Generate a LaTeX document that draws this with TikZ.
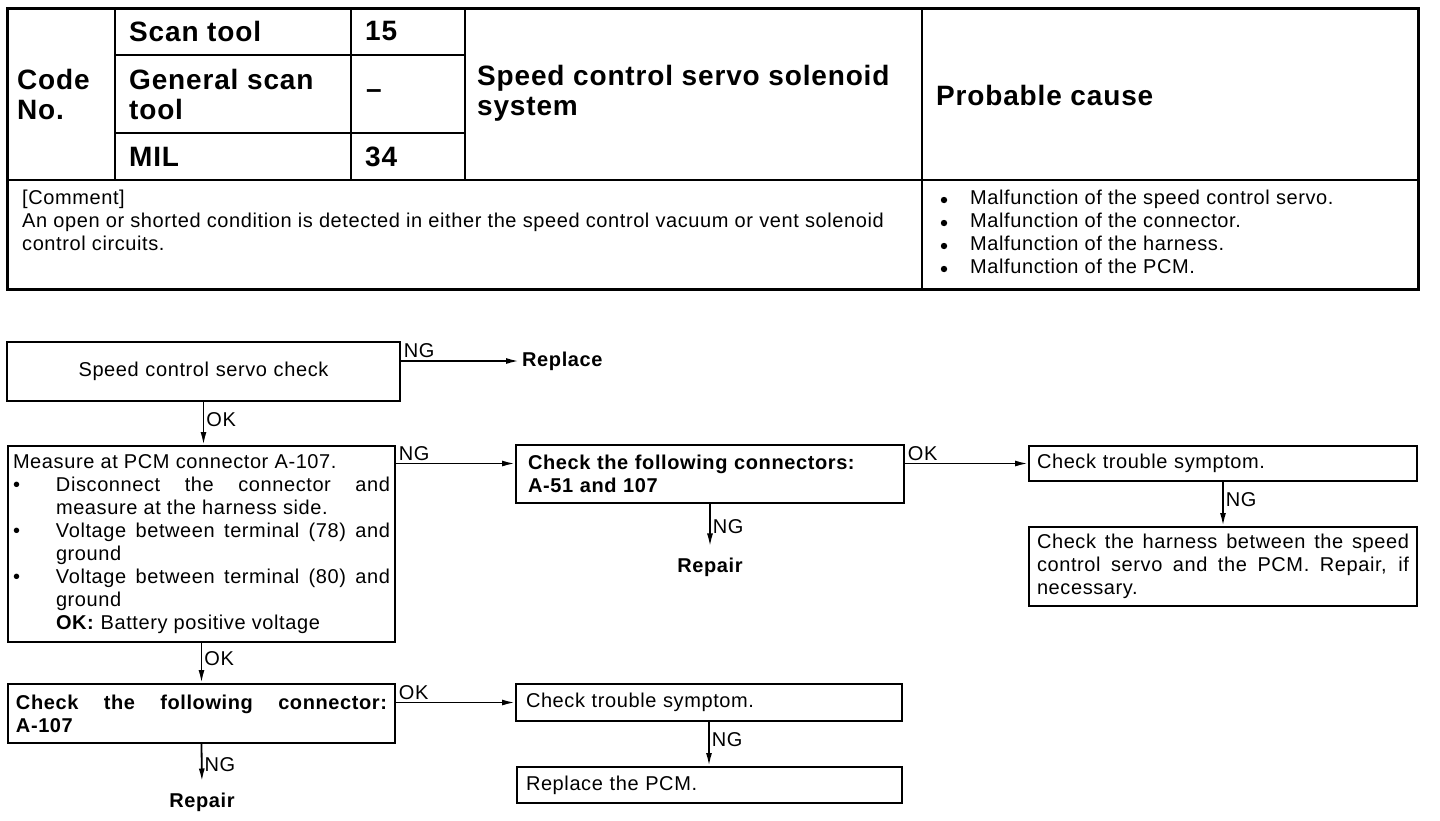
\documentclass[tikz,border=0pt]{standalone}
\usepackage{fontspec}
\setmainfont{Liberation Sans}[LetterSpace=3]
\usetikzlibrary{arrows.meta, positioning}

\newcommand{\bodyfont}{\fontsize{20}{23}\selectfont}
\newcommand{\headfont}{\fontsize{28}{30}\selectfont\bfseries}
\newcommand{\bitem}{\par\noindent\hangindent=43pt\hangafter=1\makebox[43pt][l]{\textbullet}}

\begin{document}
\begin{tikzpicture}[x=1pt, y=-1pt,
        tline/.style={line width=2pt},
        head/.style={font=\headfont, inner sep=0pt, align=left},
        body/.style={font=\bodyfont, inner sep=0pt, align=left},
        fbox/.style={draw, line width=2pt, anchor=north west, font=\bodyfont, inner xsep=8pt, inner ysep=2pt},
        arr/.style={-{Latex[length=13pt, width=6pt]}, line width=1.8pt},
        lbl/.style={font=\bodyfont, inner sep=2pt},
        res/.style={font=\bodyfont\bfseries, inner sep=3pt}
    ]
        \useasboundingbox (0,0) rectangle (1440,820);

        % Code table (top)
        \draw[line width=3pt] (7,8) rectangle (1418,289);
        \draw[tline] (7,180) -- (1418,180);
        \foreach \x in {115, 351, 465} {
            \draw[tline] (\x,8) -- (\x,180);
        }
        \draw[tline] (922,8) -- (922,289);
        \foreach \y in {55, 133} {
            \draw[tline] (115,\y) -- (465,\y);
        }

        \node[head, anchor=west] (code) at (17,94) {Code\\No.};
        \node[head, anchor=west] (scan) at (129,31) {Scan tool};
        \node[head, anchor=west] (scanv) at (365,31) {15};
        \node[head, anchor=west] (gen) at (129,94) {General scan\\tool};
        \node[head] (genv) at (374,94) {--};
        \node[head, anchor=west] (mil) at (129,157) {MIL};
        \node[head, anchor=west] (milv) at (365,157) {34};
        \node[head, anchor=west] (sys) at (477,93) {Speed control servo solenoid\\system};
        \node[head, anchor=west] (cause) at (936,95) {Probable cause};

        \node[body, anchor=north west] (cmt) at (22,190)
            {[Comment]\\An open or shorted condition is detected in either the speed control vacuum or vent solenoid\\control circuits.};
        \node[body, anchor=north west] (causes) at (970,190)
            {Malfunction of the speed control servo.\\
             Malfunction of the connector.\\
             Malfunction of the harness.\\
             Malfunction of the PCM.};
        % bullets of the cause list
        \foreach \y in {200, 223, 246, 269} {
            \fill (944,\y) circle (3.2pt);
        }

        % Flow chart, left column
        \node[fbox, text width=377pt, minimum height=59pt, align=center] (servo) at (6,341) {Speed control servo check};
        \node[fbox, text width=377pt, minimum height=196pt, align=justify, inner xsep=5pt] (meas) at (7,445)
            {\noindent Measure at PCM connector A-107.
             \bitem Disconnect the connector and\linebreak measure at the harness side.
             \bitem Voltage between terminal (78) and\linebreak ground
             \bitem Voltage between terminal (80) and\linebreak ground\newline\textbf{OK:} Battery positive voltage\par};
        \node[fbox, text width=371pt, minimum height=59pt, align=justify, font=\bodyfont\bfseries] (conn) at (7,683)
            {\noindent Check the following connector:\linebreak A-107\par};
        \node[res] (rep) at (202,802) {Repair};

        % Middle column
        \node[res, anchor=west] (repl) at (519,361) {Replace};
        \node[fbox, text width=364pt, minimum height=58pt, align=left, inner xsep=12pt, font=\bodyfont\bfseries] (conns) at (515,444)
            {Check the following connectors:\\A-51 and 107};
        \node[res] (repb) at (710,567) {Repair};
        \node[fbox, text width=366pt, minimum height=37pt, align=left, inner xsep=10pt] (sym) at (515,683) {Check trouble symptom.};
        \node[fbox, text width=367pt, minimum height=36pt, align=left, inner xsep=9pt] (pcm) at (516,766) {Replace the PCM.};

        % Right column
        \node[fbox, text width=372pt, minimum height=35pt, align=left] (symb) at (1028,445) {Check trouble symptom.};
        \node[fbox, text width=372pt, minimum height=79pt, align=justify] (harn) at (1028,526)
            {\noindent Check the harness between the speed\linebreak control servo and the PCM. Repair, if\linebreak necessary.\par};

        % Connectors
        \draw[arr] (servo.east |- repl.west) -- (repl.west) node[lbl, pos=0, above right] {NG};
        \draw[arr] (servo.south) -- (servo.south |- meas.north) node[lbl, pos=0.4, right] {OK};
        \draw[arr] (meas.east |- symb.west) -- (conns.west |- symb.west) node[lbl, pos=0, above right] {NG};
        \draw[arr] (conns.east |- symb.west) -- (symb.west) node[lbl, pos=0, above right] {OK};
        \draw[arr, shorten >=8pt] (conns.south) -- (repb.north) node[lbl, pos=0.45, right] {NG};
        \draw[arr] (symb.south) -- (symb.south |- harn.north) node[lbl, pos=0.4, right] {NG};
        \draw[arr] (meas.south) -- (meas.south |- conn.north) node[lbl, pos=0.4, right] {OK};
        \draw[arr] (conn.east |- sym.west) -- (sym.west) node[lbl, pos=0, above right] {OK};
        \draw[arr, shorten >=8pt] (conn.south) -- (rep.north) node[lbl, pos=0.45, right] {NG};
        \draw[arr] (sym.south) -- (sym.south |- pcm.north) node[lbl, pos=0.4, right] {NG};

    \end{tikzpicture}
\end{document}
